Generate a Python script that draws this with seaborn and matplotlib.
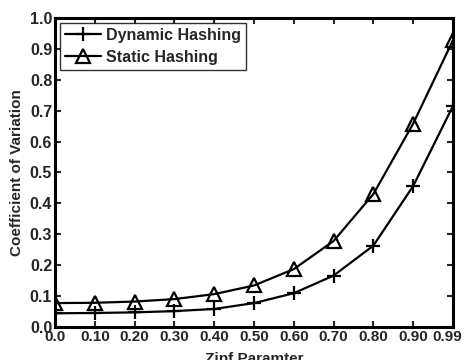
import matplotlib
matplotlib.use("Agg")
import matplotlib.pyplot as plt
import matplotlib.transforms as mtransforms
import seaborn as sns
import pandas as pd

zipf_labels = ["0.0", "0.10", "0.20", "0.30", "0.40", "0.50", "0.60", "0.70", "0.80", "0.90", "0.99"]
dynamic_cv = [0.044, 0.045, 0.047, 0.051, 0.058, 0.077, 0.109, 0.166, 0.263, 0.456, 0.715]
static_cv = [0.077, 0.078, 0.082, 0.090, 0.106, 0.134, 0.187, 0.278, 0.430, 0.658, 0.928]
y_ticks = [0.0, 0.1, 0.2, 0.3, 0.4, 0.5, 0.6, 0.7, 0.8, 0.9, 1.0]

sns.set_style("white")
plt.rcParams["font.family"] = ["Liberation Sans", "DejaVu Sans"]
plt.rcParams["font.weight"] = "bold"

df = pd.DataFrame({"pos": range(len(zipf_labels)),
                   "Dynamic Hashing": dynamic_cv,
                   "Static Hashing": static_cv})

fig = plt.figure(figsize=(4.66, 3.6), dpi=100)
ax = fig.add_axes([0.118, 0.092, 0.854, 0.858])

sns.lineplot(data=df, x="pos", y="Dynamic Hashing", ax=ax, color="black",
             linewidth=1.6, marker="+", markersize=10, markeredgewidth=1.6,
             markeredgecolor="black", label="Dynamic Hashing")
sns.lineplot(data=df, x="pos", y="Static Hashing", ax=ax, color="black",
             linewidth=1.6, marker="^", markersize=10, markeredgewidth=1.6,
             markerfacecolor="none", markeredgecolor="black",
             label="Static Hashing")

ax.set_xlim(0, len(zipf_labels) - 1)
ax.set_ylim(0, 1.0)
ax.set_xticks(range(len(zipf_labels)))
ax.set_xticklabels(zipf_labels, fontsize=11, fontweight="bold")
ax.set_yticks(y_ticks)
ax.set_yticklabels([f"{v:.1f}" for v in y_ticks], fontsize=11.5, fontweight="bold")
ax.tick_params(direction="in", length=4, width=1.5, top=True, right=True,
               bottom=True, left=True, pad=2)
for s in ax.spines.values():
    s.set_linewidth(2.2)
    s.set_color("black")

# keep the last x tick label inside the figure
last = ax.get_xticklabels()[-1]
last.set_transform(last.get_transform() +
                   mtransforms.ScaledTranslation(-6 / 100, 0, fig.dpi_scale_trans))

ax.set_xlabel("Zipf Paramter", fontsize=11, fontweight="bold", labelpad=6)
ax.set_ylabel("Coefficient of Variation", fontsize=11, fontweight="bold", labelpad=4)

leg = ax.legend(loc="upper left", fontsize=11.5, frameon=True, fancybox=False,
                borderaxespad=0.3, handlelength=2.3, handletextpad=0.3,
                labelspacing=0.45, borderpad=0.3)
leg.get_frame().set_edgecolor("black")
leg.get_frame().set_linewidth(1.0)
for t in leg.get_texts():
    t.set_fontweight("bold")

fig.savefig("out.png", dpi=100)
